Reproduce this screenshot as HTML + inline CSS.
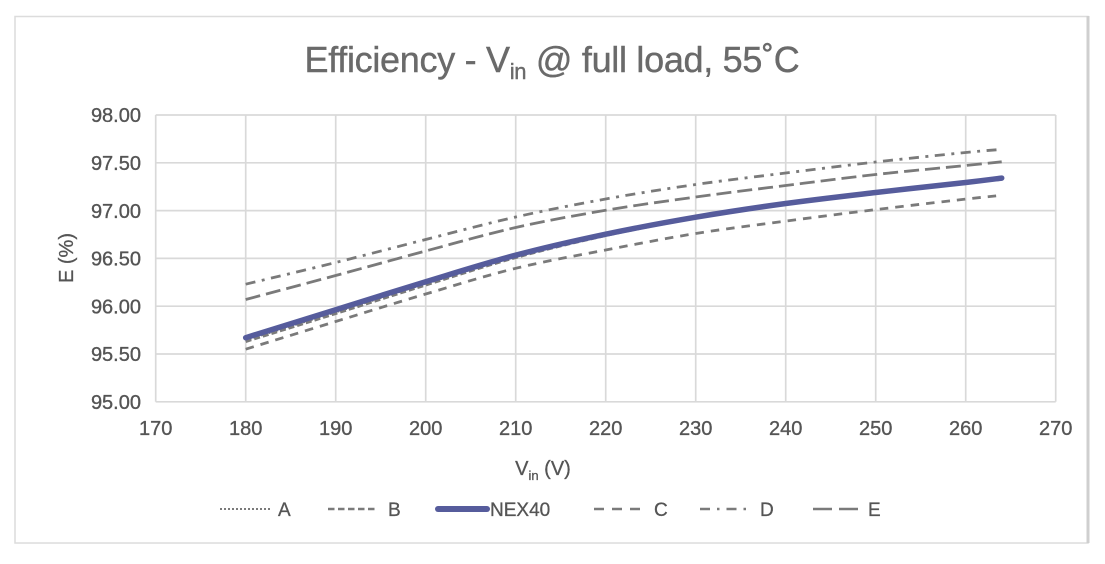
<!DOCTYPE html>
<html>
<head>
<meta charset="utf-8">
<style>
  html, body { margin:0; padding:0; background:#ffffff; }
  body { width:1105px; height:564px; overflow:hidden; }
  svg { display:block; }
  text { font-family: "Liberation Sans", "DejaVu Sans", sans-serif; }
</style>
</head>
<body>
<svg id="chart" width="1105" height="564" viewBox="0 0 1105 564" xmlns="http://www.w3.org/2000/svg">
  <rect x="0" y="0" width="1105" height="564" fill="#ffffff"/>
  <!-- outer frame -->
  <rect x="15" y="16.5" width="1073" height="526.5" fill="#ffffff" stroke="#dcdcdc" stroke-width="1.5"/>
  <line x1="1088" y1="16" x2="1088" y2="543" stroke="#cfcfcf" stroke-width="3"/>

  <!-- title -->
  <text x="552" y="72" text-anchor="middle" font-size="36" fill="#6a6a6a" stroke="#6a6a6a" stroke-width="0.4" letter-spacing="-0.3">Efficiency - V<tspan font-size="22" dy="7">in</tspan><tspan dy="-7"> @ full load, 55˚C</tspan></text>

  <!-- gridlines -->
  <g stroke="#d9d9d9" stroke-width="1.7" fill="none">
    <line x1="155.7" y1="115" x2="1055.7" y2="115"/>
    <line x1="155.7" y1="162.8" x2="1055.7" y2="162.8"/>
    <line x1="155.7" y1="210.6" x2="1055.7" y2="210.6"/>
    <line x1="155.7" y1="258.4" x2="1055.7" y2="258.4"/>
    <line x1="155.7" y1="306.2" x2="1055.7" y2="306.2"/>
    <line x1="155.7" y1="354" x2="1055.7" y2="354"/>
    <line x1="155.7" y1="401.8" x2="1055.7" y2="401.8"/>
    <line x1="155.7" y1="115" x2="155.7" y2="401.8"/>
    <line x1="245.7" y1="115" x2="245.7" y2="401.8"/>
    <line x1="335.7" y1="115" x2="335.7" y2="401.8"/>
    <line x1="425.7" y1="115" x2="425.7" y2="401.8"/>
    <line x1="515.7" y1="115" x2="515.7" y2="401.8"/>
    <line x1="605.7" y1="115" x2="605.7" y2="401.8"/>
    <line x1="695.7" y1="115" x2="695.7" y2="401.8"/>
    <line x1="785.7" y1="115" x2="785.7" y2="401.8"/>
    <line x1="875.7" y1="115" x2="875.7" y2="401.8"/>
    <line x1="965.7" y1="115" x2="965.7" y2="401.8"/>
    <line x1="1055.7" y1="115" x2="1055.7" y2="401.8"/>
  </g>

  <!-- y tick labels -->
  <g font-size="20" fill="#555555" stroke="#555555" stroke-width="0.35" text-anchor="end">
    <text x="141" y="122">98.00</text>
    <text x="141" y="170">97.50</text>
    <text x="141" y="218">97.00</text>
    <text x="141" y="265.5">96.50</text>
    <text x="141" y="313.5">96.00</text>
    <text x="141" y="361">95.50</text>
    <text x="141" y="409">95.00</text>
  </g>

  <!-- x tick labels -->
  <g font-size="20" fill="#555555" stroke="#555555" stroke-width="0.35" text-anchor="middle">
    <text x="155.7" y="435">170</text>
    <text x="245.7" y="435">180</text>
    <text x="335.7" y="435">190</text>
    <text x="425.7" y="435">200</text>
    <text x="515.7" y="435">210</text>
    <text x="605.7" y="435">220</text>
    <text x="695.7" y="435">230</text>
    <text x="785.7" y="435">240</text>
    <text x="875.7" y="435">250</text>
    <text x="965.7" y="435">260</text>
    <text x="1055.7" y="435">270</text>
  </g>

  <!-- axis titles -->
  <text transform="translate(73,258) rotate(-90)" text-anchor="middle" font-size="20" fill="#555555" stroke="#555555" stroke-width="0.3">E (%)</text>
  <text x="543" y="475" text-anchor="middle" font-size="20" fill="#555555" stroke="#555555" stroke-width="0.3">V<tspan font-size="13" dy="5">in</tspan><tspan dy="-5"> (V)</tspan></text>

  <!-- series -->
  <g fill="none" stroke-linejoin="round">
    <!-- A dotted -->
    <polyline class="smooth" stroke="#7a7a7a" stroke-width="2.2" stroke-dasharray="2 2"
      points="245.7,340.2 335.7,312.2 425.7,283.7 515.7,256.7 605.7,235.2 695.7,217.7 785.7,203.9 875.7,192.8 965.7,182.8 1001.7,178.4"/>
    <!-- B short dash -->
    <polyline class="smooth" stroke="#7a7a7a" stroke-width="2.6" stroke-dasharray="6 3"
      points="245.7,341.7 335.7,313.7 425.7,285.2 515.7,257.7 605.7,235.7 695.7,218.2 785.7,204.2 875.7,193.0 965.7,183.0 1001.7,178.6"/>
    <!-- NEX40 -->
    <polyline class="smooth" stroke="#565c9c" stroke-width="5.5" stroke-linecap="round"
      points="245.7,337.7 335.7,309.7 425.7,281.7 515.7,255.2 605.7,234.2 695.7,217.2 785.7,203.5 875.7,192.5 965.7,182.5 1001.7,178.1"/>
    <!-- C dash -->
    <polyline class="smooth" stroke="#7a7a7a" stroke-width="2.8" stroke-dasharray="8.5 7"
      points="245.7,349.2 335.7,321.5 425.7,294 515.7,268.3 605.7,250 695.7,233.5 785.7,221.1 875.7,209.6 965.7,199.1 1001.7,195.3"/>
    <!-- D dash dot -->
    <polyline class="smooth" stroke="#7a7a7a" stroke-width="2.8" stroke-dasharray="10 6.5 3 6.5"
      points="245.7,284.2 335.7,262.5 425.7,239.5 515.7,217 605.7,199 695.7,184.5 785.7,173 875.7,162 965.7,152.5 1001.7,149.4"/>
    <!-- E long dash -->
    <polyline class="smooth" stroke="#7a7a7a" stroke-width="2.8" stroke-dasharray="15 6"
      points="245.7,299.5 335.7,275.5 425.7,251 515.7,227.5 605.7,210.3 695.7,197 785.7,185.5 875.7,174.5 965.7,165.5 1001.7,161.8"/>
  </g>

  <!-- legend -->
  <g fill="none">
    <line x1="220" y1="509" x2="270" y2="509" stroke="#7a7a7a" stroke-width="2" stroke-dasharray="2 2"/>
    <line x1="328" y1="509" x2="377" y2="509" stroke="#7a7a7a" stroke-width="2.6" stroke-dasharray="6.5 3.5"/>
    <line x1="438" y1="509" x2="487" y2="509" stroke="#565c9c" stroke-width="6" stroke-linecap="round"/>
    <line x1="594" y1="509" x2="642" y2="509" stroke="#7a7a7a" stroke-width="2.6" stroke-dasharray="10 8"/>
    <line x1="700" y1="509" x2="748" y2="509" stroke="#7a7a7a" stroke-width="2.6" stroke-dasharray="10 7 2.5 7"/>
    <line x1="813" y1="509" x2="858" y2="509" stroke="#7a7a7a" stroke-width="2.6" stroke-dasharray="19 7"/>
  </g>
  <g font-size="19" fill="#555555" stroke="#555555" stroke-width="0.3">
    <text x="278" y="516">A</text>
    <text x="388" y="516">B</text>
    <text x="490" y="516">NEX40</text>
    <text x="654" y="516">C</text>
    <text x="760" y="516">D</text>
    <text x="868" y="516">E</text>
  </g>
</svg>
<script>
(function(){
  var ns = "http://www.w3.org/2000/svg";
  var pls = document.querySelectorAll("polyline.smooth");
  for (var k = 0; k < pls.length; k++) {
    var pl = pls[k];
    var raw = pl.getAttribute("points").trim().split(/\s+/);
    var p = raw.map(function(s){ var a = s.split(","); return [parseFloat(a[0]), parseFloat(a[1])]; });
    var d = "M" + p[0][0] + "," + p[0][1];
    for (var i = 0; i < p.length - 1; i++) {
      var p0 = p[i > 0 ? i - 1 : i], p1 = p[i], p2 = p[i + 1], p3 = p[i + 2 < p.length ? i + 2 : i + 1];
      var c1x = p1[0] + (p2[0] - p0[0]) / 6, c1y = p1[1] + (p2[1] - p0[1]) / 6;
      var c2x = p2[0] - (p3[0] - p1[0]) / 6, c2y = p2[1] - (p3[1] - p1[1]) / 6;
      d += " C" + c1x.toFixed(2) + "," + c1y.toFixed(2) + " " + c2x.toFixed(2) + "," + c2y.toFixed(2) + " " + p2[0] + "," + p2[1];
    }
    var path = document.createElementNS(ns, "path");
    var attrs = ["stroke", "stroke-width", "stroke-dasharray", "stroke-linecap"];
    for (var j = 0; j < attrs.length; j++) {
      var v = pl.getAttribute(attrs[j]);
      if (v) path.setAttribute(attrs[j], v);
    }
    path.setAttribute("fill", "none");
    path.setAttribute("stroke-linejoin", "round");
    path.setAttribute("d", d);
    pl.parentNode.replaceChild(path, pl);
  }
})();
</script>
</body>
</html>
